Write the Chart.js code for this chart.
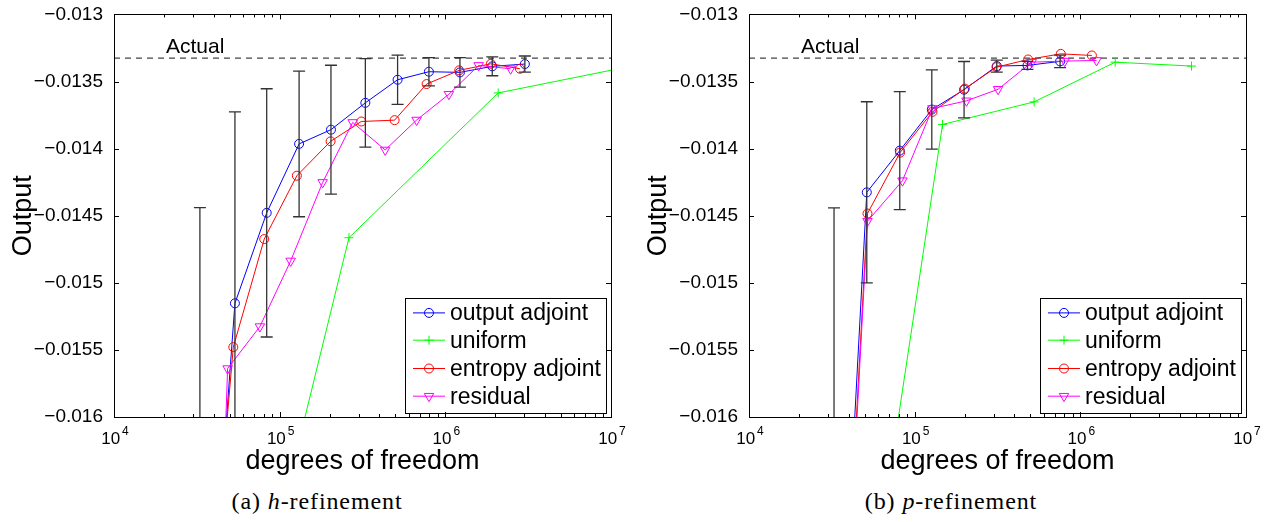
<!DOCTYPE html>
<html>
<head>
<meta charset="utf-8">
<script src="https://cdn.jsdelivr.net/npm/chart.js@4.4.1/dist/chart.umd.min.js"></script>
<style>
  body { margin: 0; background: #fff; width: 1270px; height: 522px; position: relative; overflow: hidden; }
  canvas { position: absolute; top: 0; }
  .cap { position: absolute; top: 488px; width: 400px; text-align: center;
         font-family: "Liberation Serif", "Times New Roman", serif; font-size: 24px; letter-spacing: 0.9px; color: #000; }
</style>
</head>
<body>
<canvas id="hChart" width="635" height="480" style="left:0px"></canvas>
<canvas id="pChart" width="635" height="480" style="left:635px"></canvas>
<div class="cap" style="left:117px">(a) <i>h</i>-refinement</div>
<div class="cap" style="left:751px">(b) <i>p</i>-refinement</div>
<script>
// reference output value
const actualOutput = -0.013326

// axes
const yTickValues = [-0.016, -0.0155, -0.015, -0.0145, -0.014, -0.0135, -0.013]
const yTickLabels = ['\u22120.016', '\u22120.0155', '\u22120.015', '\u22120.0145', '\u22120.014', '\u22120.0135', '\u22120.013']
const xTickExponents = [4, 5, 6, 7]
const seriesNames = ['output adjoint', 'uniform', 'entropy adjoint', 'residual']

// (a) h-refinement
const hOutputDof = [33.0e3, 53.7e3, 83.5e3, 131e3, 204e3, 329e3, 515e3, 796e3, 1.225e6, 1.92e6, 3.02e6]
const hOutputVal = [-0.01873, -0.015153, -0.014479, -0.013965, -0.013859, -0.013659, -0.013487, -0.013427, -0.013432, -0.013387, -0.01337]
const hOutputErr = [0.00429, 0.001427, 0.000925, 0.000543, 0.00048, 0.00033, 0.000184, 0.000105, 0.00011, 0.00007, 0.00006]
const hUniformDof = [32.75e3, 262e3, 2.085e6, 16.7e6]
const hUniformVal = [-0.01921, -0.014664, -0.013585, -0.013361]
const hEntropyDof = [40e3, 52.5e3, 80.7e3, 127e3, 203e3, 311e3, 494e3, 771e3, 1.213e6, 1.884e6, 2.82e6]
const hEntropyVal = [-0.01717, -0.015479, -0.014674, -0.014202, -0.013946, -0.013798, -0.013788, -0.013519, -0.013417, -0.013368, -0.013405]
const hResidualDof = [44e3, 48.5e3, 76e3, 116.5e3, 181.8e3, 275.8e3, 433.5e3, 671e3, 1.051e6, 1.589e6, 2.477e6]
const hResidualVal = [-0.01715, -0.015639, -0.015326, -0.014837, -0.014252, -0.013805, -0.01401, -0.013787, -0.013595, -0.01338, -0.013405]

// (b) p-refinement
const pOutputDof = [32.6e3, 51.4e3, 81.3e3, 126.9e3, 198.7e3, 313e3, 479.7e3, 755e3]
const pOutputVal = [-0.01889, -0.014326, -0.014015, -0.013709, -0.013561, -0.013385, -0.01338, -0.01335]
const pOutputErr = [0.004448, 0.000675, 0.00044, 0.000295, 0.00021, 0.000045, 0.00003, 0.000046]
const pUniformDof = [40e3, 147.3e3, 526e3, 1.623e6, 4.69e6]
const pUniformVal = [-0.01846, -0.01382, -0.013652, -0.013356, -0.013385]
const pEntropyDof = [40e3, 51.9e3, 81.6e3, 128.1e3, 201e3, 312e3, 484e3, 762e3, 1.174e6]
const pEntropyVal = [-0.017062, -0.014484, -0.01403, -0.013726, -0.013553, -0.013393, -0.013336, -0.013294, -0.013306]
const pResidualDof = [42e3, 51.9e3, 84.4e3, 128e3, 205.5e3, 318.8e3, 509e3, 805e3, 1.253e6]
const pResidualVal = [-0.01667, -0.014541, -0.014239, -0.013701, -0.013644, -0.013558, -0.013356, -0.013348, -0.013343]

const FONT = '"Liberation Sans", Arial, Helvetica, sans-serif'

function lineSet(label, xs, ys, color, style, rotation, order) {
  return {
    label: label,
    data: xs.map((x, i) => ({ x: x, y: ys[i] })),
    borderColor: color,
    backgroundColor: color,
    borderWidth: 1,
    pointStyle: style,
    pointRotation: rotation,
    pointRadius: style === 'triangle' ? 5.5 : 4.5,
    pointHoverRadius: 4.5,
    pointBorderColor: color,
    pointBackgroundColor: 'rgba(0,0,0,0)',
    pointBorderWidth: 1,
    tension: 0,
    order: order,
    legendEntry: true
  }
}

function actualSet() {
  return {
    label: 'Actual',
    data: [{ x: 1e4, y: actualOutput }, { x: 1e7, y: actualOutput }],
    borderColor: '#444',
    borderWidth: 1.2,
    borderDash: [6, 5],
    pointRadius: 0,
    order: 10
  }
}

// MATLAB style box, inward ticks, error bars, legend and labels
function matlabFrame(errDof, errMid, err) {
  return {
    id: 'matlabFrame',
    afterDatasetsDraw(chart) {
      const { ctx, chartArea: a, scales: { x, y } } = chart
      ctx.save()
      ctx.beginPath()
      ctx.rect(a.left, a.top, a.right - a.left, a.bottom - a.top)
      ctx.clip()
      ctx.strokeStyle = '#333'
      ctx.lineWidth = 1.3
      errDof.forEach((d, i) => {
        const px = x.getPixelForValue(d)
        const hi = y.getPixelForValue(errMid[i] + err[i])
        const lo = y.getPixelForValue(errMid[i] - err[i])
        ctx.beginPath()
        ctx.moveTo(px, hi); ctx.lineTo(px, lo)
        ctx.moveTo(px - 6, hi); ctx.lineTo(px + 6, hi)
        ctx.moveTo(px - 6, lo); ctx.lineTo(px + 6, lo)
        ctx.stroke()
      })
      ctx.restore()
    },
    afterDraw(chart) {
      const { ctx, chartArea: a, scales: { x, y } } = chart
      ctx.save()
      ctx.strokeStyle = '#000'
      ctx.lineWidth = 1
      // ticks
      ctx.beginPath()
      yTickValues.forEach(v => {
        const py = Math.round(y.getPixelForValue(v)) + 0.5
        ctx.moveTo(a.left, py); ctx.lineTo(a.left + 5, py)
        ctx.moveTo(a.right, py); ctx.lineTo(a.right - 5, py)
      })
      xTickExponents.forEach(e => {
        for (let k = 1; k <= 9; k++) {
          const v = k * Math.pow(10, e)
          if (v > x.max) break
          const px = Math.round(x.getPixelForValue(v)) + 0.5
          const len = k === 1 ? 5 : 3
          ctx.moveTo(px, a.bottom); ctx.lineTo(px, a.bottom - len)
          ctx.moveTo(px, a.top); ctx.lineTo(px, a.top + len)
        }
      })
      ctx.stroke()
      // box
      ctx.strokeRect(Math.round(a.left) + 0.5, Math.round(a.top) + 0.5, Math.round(a.right - a.left), Math.round(a.bottom - a.top))

      // x tick labels 10^k
      ctx.fillStyle = '#000'
      ctx.textBaseline = 'alphabetic'
      ctx.textAlign = 'left'
      xTickExponents.forEach(e => {
        const px = x.getPixelForValue(Math.pow(10, e))
        ctx.font = '17px ' + FONT
        const wBase = ctx.measureText('10').width
        ctx.font = '12px ' + FONT
        const wSup = ctx.measureText(String(e)).width
        const x0 = px - (wBase + wSup + 2) / 2 + 1
        ctx.font = '17px ' + FONT
        ctx.fillText('10', x0, 444)
        ctx.font = '12px ' + FONT
        ctx.fillText(String(e), x0 + wBase + 2, 435)
      })

      // axis titles
      ctx.font = '27px ' + FONT
      ctx.textAlign = 'center'
      ctx.fillText('degrees of freedom', (a.left + a.right) / 2, 469)
      ctx.save()
      ctx.translate(31, (a.top + a.bottom) / 2)
      ctx.rotate(-Math.PI / 2)
      ctx.fillText('Output', 0, 0)
      ctx.restore()

      // Actual label
      ctx.font = '21px ' + FONT
      ctx.textAlign = 'left'
      ctx.fillText('Actual', a.left + 52, a.top + 38.5)

      // legend
      const items = chart.data.datasets.filter(d => d.legendEntry)
      const bx = a.right - 206, by = a.bottom - 119.5, bw = 200.5, bh = 114.5
      ctx.fillStyle = '#fff'
      ctx.fillRect(bx, by, bw, bh)
      ctx.strokeStyle = '#000'
      ctx.strokeRect(Math.round(bx) + 0.5, Math.round(by) + 0.5, Math.round(bw), Math.round(bh))
      const rows = [15.4, 42.7, 71, 98.7]
      ctx.font = '23px ' + FONT
      ctx.textBaseline = 'middle'
      seriesNames.forEach((name, i) => {
        const ds = items.find(d => d.label === name)
        const ry = by + rows[i]
        ctx.strokeStyle = ds.borderColor
        ctx.lineWidth = 1
        ctx.beginPath()
        ctx.moveTo(bx + 8, ry); ctx.lineTo(bx + 40, ry)
        ctx.stroke()
        ctx.fillStyle = 'rgba(0,0,0,0)'
        Chart.helpers.drawPoint(ctx, {
          pointStyle: ds.pointStyle, rotation: ds.pointRotation,
          radius: ds.pointRadius, borderWidth: 1
        }, bx + 24, ry)
        ctx.fillStyle = '#000'
        ctx.fillText(name, bx + 45, ry + 1)
      })
      ctx.restore()
    }
  }
}

function makeChart(canvasId, datasets, errDof, errMid, err) {
  return new Chart(document.getElementById(canvasId), {
    type: 'line',
    data: { datasets: datasets },
    options: {
      responsive: false,
      animation: false,
      devicePixelRatio: 1,
      layout: { padding: { left: 0, top: 12, right: 24, bottom: 0 } },
      plugins: { legend: { display: false }, tooltip: { enabled: false } },
      scales: {
        x: {
          type: 'logarithmic',
          min: 1e4,
          max: 1e7,
          grid: { display: false },
          border: { display: false },
          ticks: { display: false },
          afterFit: scale => { scale.height = 63 }
        },
        y: {
          type: 'linear',
          min: -0.016,
          max: -0.013,
          grid: { display: false },
          border: { display: false },
          afterBuildTicks: scale => { scale.ticks = yTickValues.map(v => ({ value: v })) },
          ticks: {
            padding: 3,
            color: '#000',
            font: { family: FONT, size: 19 },
            callback: (v, i) => yTickLabels[i]
          },
          afterFit: scale => { scale.width = 114 }
        }
      }
    },
    plugins: [matlabFrame(errDof, errMid, err)]
  })
}

makeChart('hChart', [
  actualSet(),
  lineSet(seriesNames[0], hOutputDof, hOutputVal, '#0000ff', 'circle', 0, 4),
  lineSet(seriesNames[1], hUniformDof, hUniformVal, '#00ff00', 'cross', 0, 3),
  lineSet(seriesNames[2], hEntropyDof, hEntropyVal, '#ff0000', 'circle', 0, 2),
  lineSet(seriesNames[3], hResidualDof, hResidualVal, '#ff00ff', 'triangle', 180, 1)
], hOutputDof, hOutputVal, hOutputErr)

makeChart('pChart', [
  actualSet(),
  lineSet(seriesNames[0], pOutputDof, pOutputVal, '#0000ff', 'circle', 0, 4),
  lineSet(seriesNames[1], pUniformDof, pUniformVal, '#00ff00', 'cross', 0, 3),
  lineSet(seriesNames[2], pEntropyDof, pEntropyVal, '#ff0000', 'circle', 0, 2),
  lineSet(seriesNames[3], pResidualDof, pResidualVal, '#ff00ff', 'triangle', 180, 1)
], pOutputDof, pOutputVal, pOutputErr)
</script>
</body>
</html>
